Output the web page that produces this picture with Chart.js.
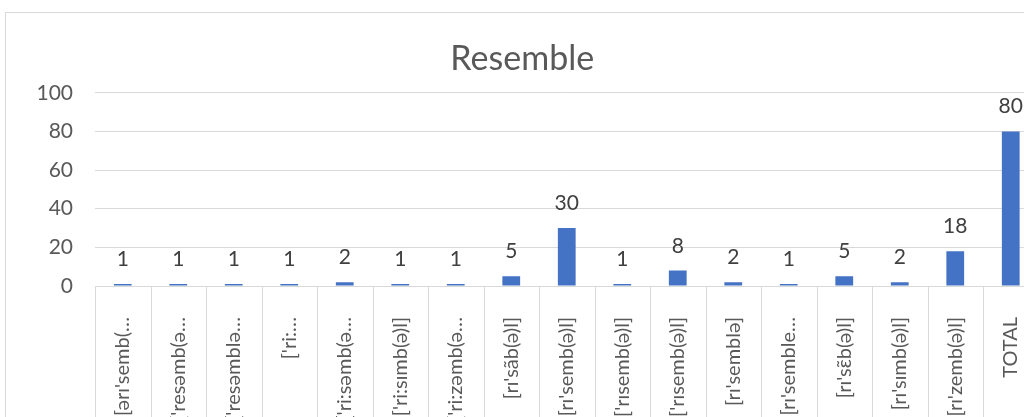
<!DOCTYPE html>
<html>
<head>
<meta charset="utf-8">
<script src="https://cdn.jsdelivr.net/npm/chart.js@4/dist/chart.umd.min.js"></script>
<style>
    html, body { margin: 0; padding: 0; width: 1024px; height: 417px; overflow: hidden; background: #fff; }
    #frame { position: absolute; left: 5px; top: 12px; width: 1100px; height: 600px; border: 1px solid #d9d9d9; }
    #chart { position: absolute; left: 0; top: 0; }
</style>
</head>
<body>
<div id="frame"><canvas id="chart" width="1036" height="480"></canvas></div>
<script>
// Data
const categories = [
    "[ərɪ'semb(…", "['resəmb(ə…", "['resəmblə…", "['ri:…", "['ri:səmb(ə…",
    "['ri:sɪmb(ə)l]", "['ri:zəmb(ə…", "[rɪ'sãb(ə)l]", "[rɪ'semb(ə)l]", "['rɪsemb(ə)l]",
    "['rɪsemb(ə)l]", "[rɪ'semblə]", "[rɪ'semble…", "[rɪ'sɛ̃b(ə)l]", "[rɪ'sɪmb(ə)l]",
    "[rɪ'zemb(ə)l]", "TOTAL"
];
const counts = [1, 1, 1, 1, 2, 1, 1, 5, 30, 1, 8, 2, 1, 5, 2, 18, 80];
const yTicks = [0, 20, 40, 60, 80, 100];

const FONT = "Lato, 'Noto Sans', sans-serif";
const GRID = '#d9d9d9';

// Value labels above bars
const valueLabels = {
    id: 'valueLabels',
    afterDatasetsDraw(chart) {
        const ctx = chart.ctx;
        const meta = chart.getDatasetMeta(0);
        ctx.save();
        ctx.font = '21px ' + FONT;
        ctx.fillStyle = '#404040';
        ctx.textAlign = 'center';
        ctx.textBaseline = 'alphabetic';
        meta.data.forEach((bar, i) => {
            ctx.fillText(String(counts[i]), bar.x, bar.y - 18);
        });
        ctx.restore();
    }
};

// Category separators running down through the label area
const separators = {
    id: 'separators',
    beforeDatasetsDraw(chart) {
        const xs = chart.scales.x;
        const ctx = chart.ctx;
        const half = (xs.getPixelForTick(1) - xs.getPixelForTick(0)) / 2;
        ctx.save();
        ctx.strokeStyle = GRID;
        ctx.lineWidth = 1;
        ctx.beginPath();
        for (let i = 0; i <= categories.length; i++) {
            const x = Math.round(xs.getPixelForTick(0) - half + i * half * 2) + 0.5;
            ctx.moveTo(x, chart.chartArea.bottom);
            ctx.lineTo(x, chart.height);
        }
        ctx.stroke();
        ctx.restore();
    }
};

new Chart(document.getElementById('chart').getContext('2d'), {
    type: 'bar',
    data: {
        labels: categories,
        datasets: [{
            data: counts,
            backgroundColor: '#4472C4',
            categoryPercentage: 1,
            barPercentage: 0.32
        }]
    },
    options: {
        responsive: false,
        animation: false,
        devicePixelRatio: 1,
        layout: { padding: { left: 0, right: 3.5, top: 0, bottom: 7 } },
        plugins: {
            legend: { display: false },
            tooltip: { enabled: false },
            title: {
                display: true,
                text: 'Resemble',
                color: '#595959',
                font: { family: FONT, size: 34, weight: 'normal', lineHeight: 1.2 },
                padding: { top: 26, bottom: 13 }
            }
        },
        scales: {
            y: {
                min: 0,
                max: 100,
                afterBuildTicks(scale) { scale.ticks = yTicks.map(v => ({ value: v })); },
                afterFit(scale) { scale.width = 89; },
                ticks: {
                    color: '#595959',
                    padding: 22,
                    font: { family: FONT, size: 21 }
                },
                grid: { color: GRID, drawTicks: false },
                border: { display: false }
            },
            x: {
                afterFit(scale) {
                    scale.height = 200;
                    scale.paddingLeft = 0;
                    scale.paddingRight = 0;
                },
                ticks: {
                    autoSkip: false,
                    maxRotation: 90,
                    minRotation: 90,
                    padding: 31,
                    color: '#595959',
                    font: { family: FONT, size: 20 }
                },
                grid: { display: false, drawTicks: false },
                border: { display: true, color: GRID }
            }
        }
    },
    plugins: [separators, valueLabels]
});
</script>
</body>
</html>
